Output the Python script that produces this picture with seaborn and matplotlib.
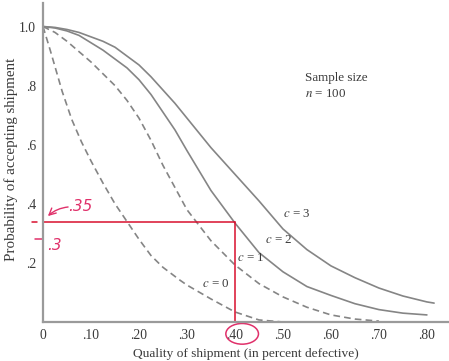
import numpy as np
import pandas as pd
import matplotlib
matplotlib.use("Agg")
import matplotlib.pyplot as plt
import seaborn as sns
from matplotlib.patches import Ellipse

# operating characteristic curves
x_c0 = [0, .015, .04, .06, .08, .10, .125, .15, .175, .20, .225, .25, .285, .30, .35, .40, .45, .50]
p_c0 = [1.0, .92, .78, .685, .61, .545, .47, .40, .34, .28, .225, .185, .142, .125, .078, .034, .007, 0.0]

x_c1 = [0, .025, .05, .075, .10, .125, .15, .175, .20, .225, .25, .30, .35, .40, .45, .50, .55, .60, .65, .70]
p_c1 = [1.0, .98, .95, .915, .88, .84, .80, .75, .69, .615, .53, .38, .275, .193, .13, .085, .05, .024, .01, .003]

x_c2 = [0, .025, .05, .075, .10, .125, .15, .175, .20, .225, .25, .275, .30, .35, .40, .45, .50, .55, .60, .65, .70, .75, .80]
p_c2 = [1.0, .995, .985, .97, .945, .92, .89, .86, .82, .77, .71, .65, .58, .445, .335, .235, .17, .12, .09, .062, .042, .03, .024]

x_c3 = [0, .025, .05, .075, .10, .125, .15, .175, .20, .225, .25, .275, .30, .35, .40, .45, .50, .55, .60, .65, .70, .75, .80, .815]
p_c3 = [1.0, .997, .99, .98, .965, .95, .93, .90, .87, .83, .785, .74, .69, .59, .50, .41, .315, .245, .19, .15, .115, .088, .068, .064]

x_ticks = [0, .10, .20, .30, .40, .50, .60, .70, .80]
x_ticklabels = ["0", ".10", ".20", ".30", ".40", ".50", ".60", ".70", ".80"]
y_ticks = [.2, .4, .6, .8, 1.0]
y_ticklabels = [".2", ".4", ".6", ".8", "1.0"]

# handwritten reading on the c = 2 curve
read_x = 0.40
read_p = 0.338

sns.set_theme(style="white")
plt.rcParams["font.family"] = ["Liberation Serif", "DejaVu Serif"]
plt.rcParams["mathtext.fontset"] = "stix"

fig = plt.figure(figsize=(4.49, 3.61), dpi=100)
ax = fig.add_axes([0.0958, 0.108, 0.902, 0.884])

grigio = "#858585"
curve = [(x_c0, p_c0, (4, 2.5)), (x_c1, p_c1, (4, 2.5)), (x_c2, p_c2, ""), (x_c3, p_c3, "")]
for xs, ps, dash in curve:
    df = pd.DataFrame({"x": xs, "p": ps})
    linea = sns.lineplot(data=df, x="x", y="p", ax=ax, color=grigio, lw=1.2)
    if dash:
        linea.lines[-1].set_dashes(dash)

ax.set_xlim(0, 0.844)
ax.set_ylim(0, 1.08)
ax.set_xticks(x_ticks)
ax.set_xticklabels(x_ticklabels)
ax.set_yticks(y_ticks)
ax.set_yticklabels(y_ticklabels)
ax.tick_params(direction="in", length=3, width=1, color="#999999", labelsize=9.8, labelcolor="#3a3a3a", pad=5)
for lato in ["top", "right"]:
    ax.spines[lato].set_visible(False)
for lato in ["left", "bottom"]:
    ax.spines[lato].set_color("#9a9a9a")
    ax.spines[lato].set_linewidth(1.6)

ax.set_xlabel("Quality of shipment (in percent defective)", fontsize=9.6, color="#3a3a3a")
ax.set_ylabel("Probability of accepting shipment", fontsize=10.8, color="#3a3a3a")
ax.xaxis.set_label_coords(0.501, -0.08)
ax.yaxis.set_label_coords(-0.062, 0.51)

testo = dict(fontsize=9.4, color="#3a3a3a")
ax.text(0.50, 0.356, "$c$ = 3", **testo)
ax.text(0.4625, 0.268, "$c$ = 2", **testo)
ax.text(0.404, 0.207, "$c$ = 1", **testo)
ax.text(0.331, 0.119, "$c$ = 0", **testo)
ax.text(0.545, 0.817, "Sample size", fontsize=9.4, color="#3a3a3a")
ax.text(0.545, 0.763, "$n$ = 100", fontsize=9.4, color="#3a3a3a")

# red pen marks
rosso = "#d8102e"
ax.plot([0, read_x], [read_p, read_p], color=rosso, lw=1.1, clip_on=False)
ax.plot([read_x, read_x], [read_p, 0], color=rosso, lw=1.1, clip_on=False)
ax.plot([-0.022, -0.013], [read_p, read_p], color=rosso, lw=1.1, clip_on=False)
penna = dict(color="#e0306a", fontsize=11, style="italic", family="DejaVu Sans")
ax.text(0.052, 0.375, ".35", **penna)
ax.annotate("", xy=(0.006, 0.352), xytext=(0.058, 0.39),
            arrowprops=dict(arrowstyle="->", color="#e0306a", lw=1.0,
                            connectionstyle="arc3,rad=0.2"), annotation_clip=False)
ax.plot([-0.017, -0.003], [0.28, 0.28], color="#e0306a", lw=1.1, clip_on=False)
ax.text(0.008, 0.245, ".3", **penna)
ax.add_patch(Ellipse((0.415, -0.04), 0.068, 0.07, fill=False, ec="#e0306a", lw=1.1, clip_on=False))

fig.savefig("out.png", dpi=100)
